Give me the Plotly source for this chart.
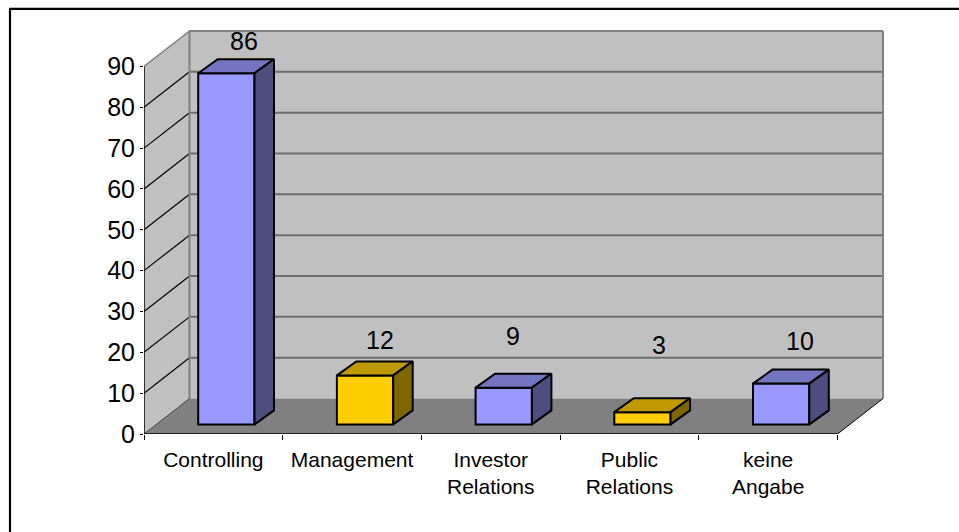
import plotly.graph_objects as go

# ---- data ----
categories = ["Controlling", "Management", "Investor<br>Relations", "Public<br>Relations", "keine<br>Angabe"]
values = [86, 12, 9, 3, 10]
y_ticks = [0, 10, 20, 30, 40, 50, 60, 70, 80, 90]

# ---- styles / layout constants (pixels) ----
W, H = 959, 532
PX0, PY0 = 143.7, 434.5      # origin of the front plane
CAT_PX = 138.7               # pixels per category
UNIT_PX = 4.087              # pixels per value unit
DEPTH_X, DEPTH_Y = 45.5, 35.5
PAD = 4
BLUE, BLUE_TOP, BLUE_SIDE = "#9999FF", "#7373BF", "#4D4D80"
GOLD, GOLD_TOP, GOLD_SIDE = "#FFCC00", "#BF9900", "#806600"
bar_colors = [(BLUE, BLUE_TOP, BLUE_SIDE), (GOLD, GOLD_TOP, GOLD_SIDE), (BLUE, BLUE_TOP, BLUE_SIDE),
              (GOLD, GOLD_TOP, GOLD_SIDE), (BLUE, BLUE_TOP, BLUE_SIDE)]
label_dx = [17.5, 14.5, 9, 17, 19]
label_dy = [32.5, 35, 52, 66.7, 43]
FONT = "Liberation Sans, Arial, sans-serif"

dx = DEPTH_X / CAT_PX
dy = DEPTH_Y / UNIT_PX
n = len(categories)
ymax_front = y_ticks[-1]
x_range = [0, n + dx + PAD / CAT_PX]
y_range = [0, ymax_front + dy + PAD / UNIT_PX]

bar_w = 56.3 / CAT_PX
fx, fy = 13 / CAT_PX, 9.6 / UNIT_PX     # bar front-plane offset on the floor
bx, by = 19.5 / CAT_PX, 14 / UNIT_PX      # bar depth
centers = [i + 0.5 + fx for i in range(n)]

fig = go.Figure()

def poly(pts):
    return "M " + " L ".join(f"{a},{b}" for a, b in pts) + " Z"

shapes = [
    # back wall
    dict(type="path", layer="below", xref="x", yref="y", fillcolor="#C0C0C0", line=dict(width=0),
         path=poly([(dx, dy), (n + dx, dy), (n + dx, ymax_front + dy), (dx, ymax_front + dy)])),
    # side wall
    dict(type="path", layer="below", xref="x", yref="y", fillcolor="#C0C0C0", line=dict(width=0),
         path=poly([(0, 0), (dx, dy), (dx, ymax_front + dy), (0, ymax_front)])),
    # floor
    dict(type="path", layer="below", xref="x", yref="y", fillcolor="#808080", line=dict(width=0),
         path=poly([(0, 0), (n, 0), (n + dx, dy), (dx, dy)])),
]
# grid lines on back and side walls
for t in y_ticks[1:]:
    shapes.append(dict(type="line", layer="below", xref="x", yref="y", x0=dx, x1=n + dx, y0=t + dy, y1=t + dy,
                       line=dict(color="#6E6E6E", width=2)))
    shapes.append(dict(type="line", layer="below", xref="x", yref="y", x0=0, x1=dx, y0=t, y1=t + dy,
                       line=dict(color="#808080" if t == ymax_front else "#000000", width=1.5 if t == ymax_front else 1.2)))
# wall borders
shapes += [
    dict(type="line", layer="below", xref="x", yref="y", x0=dx, x1=dx, y0=dy, y1=ymax_front + dy,
         line=dict(color="#808080", width=2)),
    dict(type="line", layer="below", xref="x", yref="y", x0=n + dx, x1=n + dx, y0=dy, y1=ymax_front + dy,
         line=dict(color="#808080", width=2)),
    dict(type="line", layer="below", xref="x", yref="y", x0=dx, x1=n + dx, y0=ymax_front + dy, y1=ymax_front + dy,
         line=dict(color="#808080", width=2)),
    dict(type="line", layer="below", xref="x", yref="y", x0=0, x1=dx, y0=0, y1=dy, line=dict(color="#404040", width=1)),
    dict(type="line", layer="below", xref="x", yref="y", x0=n, x1=n + dx, y0=0, y1=dy, line=dict(color="#000000", width=1)),
    dict(type="line", layer="below", xref="x", yref="y", x0=0, x1=n, y0=0, y1=0, line=dict(color="#000000", width=1.5)),
    dict(type="line", layer="below", xref="x", yref="y", x0=0, x1=0, y0=0, y1=ymax_front, line=dict(color="#000000", width=1.5)),
]

# outer frame (left and top), placed in page pixels
plot_w = n * CAT_PX + DEPTH_X + PAD
plot_h = (ymax_front + dy) * UNIT_PX + PAD
px = lambda v: (v - PX0) / plot_w
py = lambda v: (PY0 - v) / plot_h
for x0, y0, x1, y1 in [(9.7, 9, 9.7, H + 5), (9, 9, W + 5, 9)]:
    shapes.append(dict(type="line", xref="paper", yref="paper", x0=px(x0), y0=py(y0), x1=px(x1), y1=py(y1),
                       line=dict(color="#000000", width=2.2)))

# front faces
fig.add_trace(go.Bar(
    x=centers, y=values, base=[fy] * n, width=bar_w,
    marker=dict(color=[c[0] for c in bar_colors], line=dict(color="#000000", width=2)),
    showlegend=False, hoverinfo="skip"))

# top and side faces derived from the values
for c, v, col in zip(centers, values, bar_colors):
    l, r = c - bar_w / 2, c + bar_w / 2
    top = v + fy
    fig.add_trace(go.Scatter(x=[l, r, r + bx, l + bx, l], y=[top, top, top + by, top + by, top],
                             mode="lines", fill="toself", fillcolor=col[1],
                             line=dict(color="#000000", width=2), showlegend=False, hoverinfo="skip"))
    fig.add_trace(go.Scatter(x=[r, r + bx, r + bx, r, r], y=[fy, fy + by, top + by, top, fy],
                             mode="lines", fill="toself", fillcolor=col[2],
                             line=dict(color="#000000", width=2), showlegend=False, hoverinfo="skip"))

annotations = [
    dict(x=c, y=v + fy, xref="x", yref="y", text=str(v), showarrow=False, xshift=sx, yshift=sy,
         xanchor="center", yanchor="middle", font=dict(family=FONT, size=25, color="#000000"))
    for c, v, sx, sy in zip(centers, values, label_dx, label_dy)
]

fig.update_layout(
    width=W, height=H,
    margin=dict(l=PX0, r=W - (PX0 + plot_w), t=PY0 - plot_h, b=H - PY0, pad=0, autoexpand=False),
    paper_bgcolor="#FFFFFF", plot_bgcolor="#FFFFFF",
    shapes=shapes, annotations=annotations, showlegend=False, barmode="overlay",
    font=dict(family=FONT, color="#000000"),
    xaxis=dict(range=x_range, showgrid=False, zeroline=False, showline=False,
               tickmode="array", tickvals=[i + 0.5 for i in range(n)], ticktext=categories,
               ticks="", tickangle=0, ticklabelstandoff=11, tickfont=dict(size=21, family=FONT, color="#000000"),
               minor=dict(tickmode="array", tickvals=list(range(n + 1)), ticks="outside", ticklen=5,
                          tickwidth=1, tickcolor="#000000", showgrid=False)),
    yaxis=dict(range=y_range, showgrid=False, zeroline=False, showline=False,
               tickmode="array", tickvals=y_ticks, ticks="outside", ticklen=3, tickwidth=1,
               tickcolor="#000000", tickfont=dict(size=25, family=FONT, color="#000000")),
)

fig.write_html("out.html", post_script="document.body.style.margin='0';", config=dict(displayModeBar=False))
